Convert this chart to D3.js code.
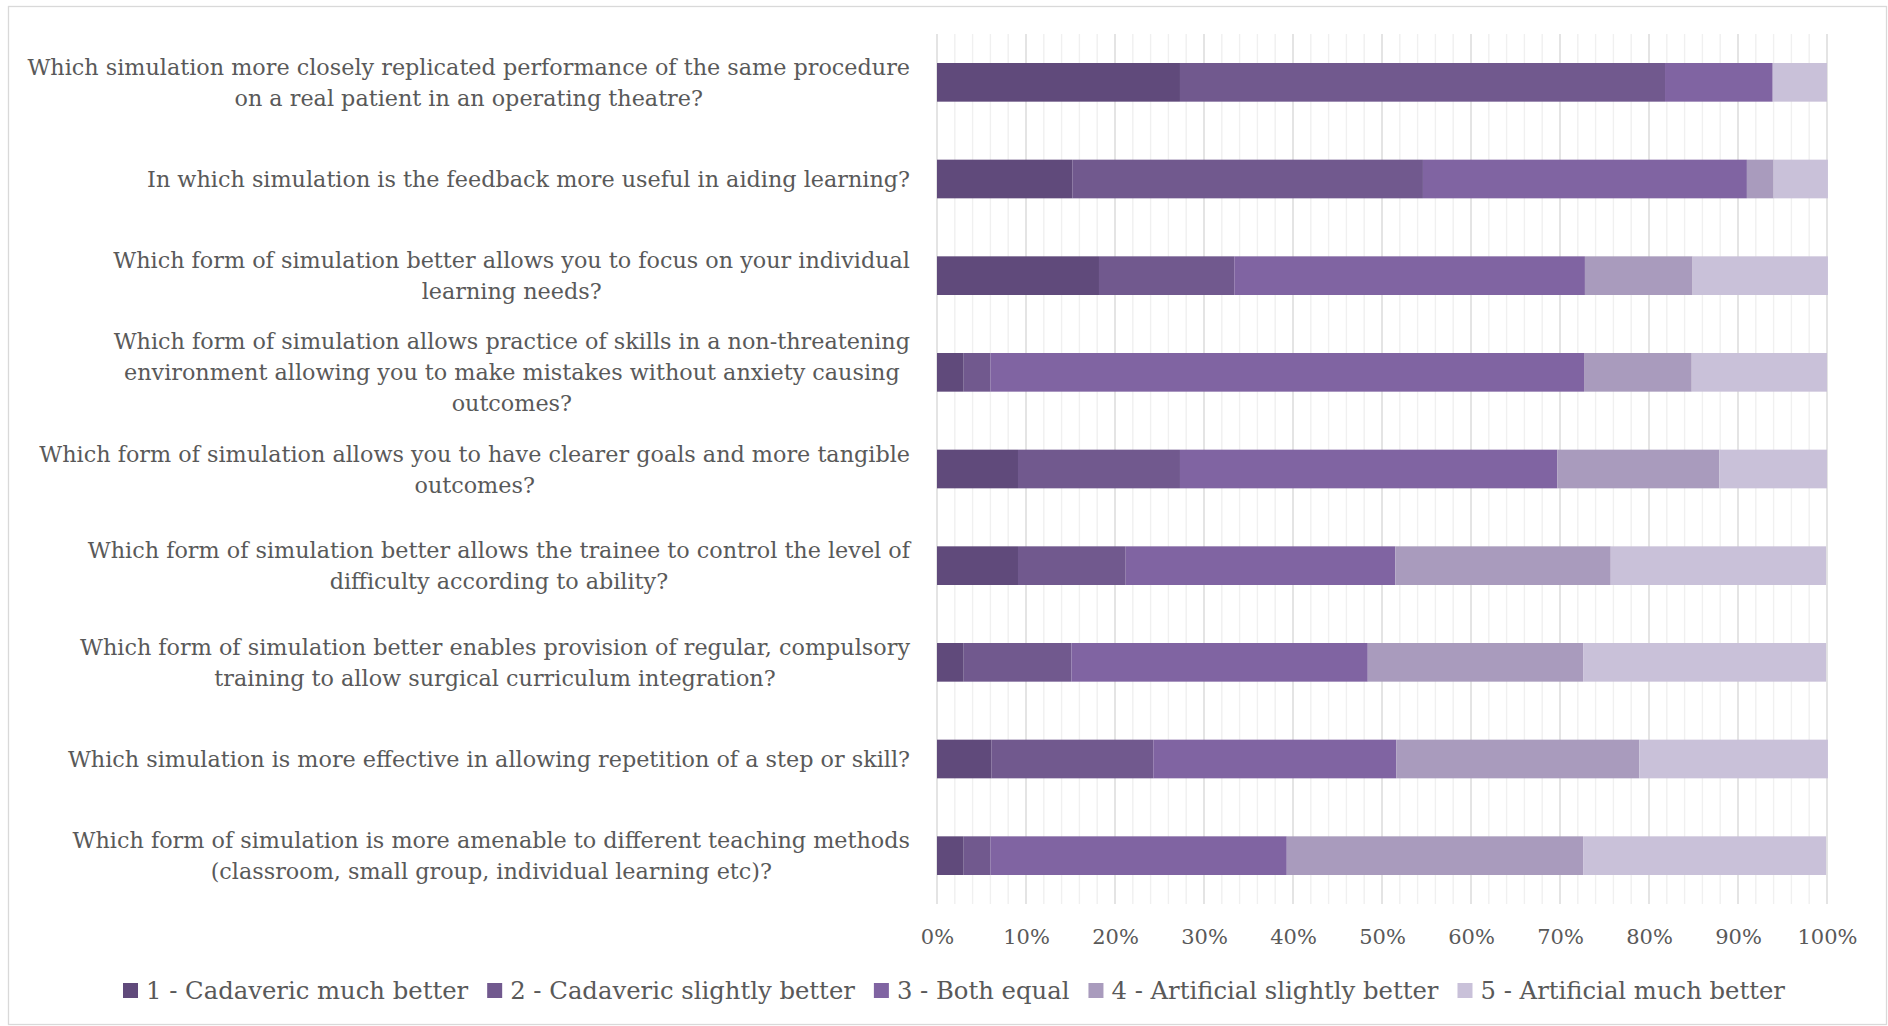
<!DOCTYPE html>
<html>
<head>
<meta charset="utf-8">
<script src="https://cdn.jsdelivr.net/npm/d3@7"></script>
<style>
  body { margin: 0; background: #fff; }
  text { font-family: "DejaVu Serif", serif; fill: #595959; }
</style>
</head>
<body>
<div id="chart"></div>
<script>
var questions = [
  ["Which simulation more closely replicated performance of the same procedure", "on a real patient in an operating theatre?"],
  ["In which simulation is the feedback more useful in aiding learning?"],
  ["Which form of simulation better allows you to focus on your individual", "learning needs?"],
  ["Which form of simulation allows practice of skills in a non-threatening", "environment allowing you to make mistakes without anxiety causing", "outcomes?"],
  ["Which form of simulation allows you to have clearer goals and more tangible", "outcomes?"],
  ["Which form of simulation better allows the trainee to control the level of", "difficulty according to ability?"],
  ["Which form of simulation better enables provision of regular, compulsory", "training to allow surgical curriculum integration?"],
  ["Which simulation is more effective in allowing repetition of a step or skill?"],
  ["Which form of simulation is more amenable to different teaching methods", "(classroom, small group, individual learning etc)?"]
];
var seriesNames = ["1 - Cadaveric much better", "2 - Cadaveric slightly better", "3 - Both equal", "4 - Artificial slightly better", "5 - Artificial much better"];
// percent of respondents per answer
var cadavericMuch    = [27.3, 15.2, 18.2,  3.0,  9.1,  9.1,  3.0,  6.1,  3.0];
var cadavericSlight  = [54.5, 39.4, 15.2,  3.0, 18.2, 12.1, 12.1, 18.2,  3.0];
var bothEqual        = [12.1, 36.4, 39.4, 66.7, 42.4, 30.3, 33.3, 27.3, 33.3];
var artificialSlight = [ 0.0,  3.0, 12.1, 12.1, 18.2, 24.2, 24.2, 27.3, 33.3];
var artificialMuch   = [ 6.1,  6.1, 15.2, 15.2, 12.1, 24.2, 27.3, 21.2, 27.3];
var tickValues = [0, 10, 20, 30, 40, 50, 60, 70, 80, 90, 100];
var colors = ["#604a7b", "#71598e", "#8064a2", "#a99bbd", "#c9c1d9"];

var width = 1888, height = 1026;
var plot = { left: 937, right: 1827, top: 34, bottom: 904 };

var table = questions.map(function (q, i) {
  var row = { idx: i };
  row[seriesNames[0]] = cadavericMuch[i];
  row[seriesNames[1]] = cadavericSlight[i];
  row[seriesNames[2]] = bothEqual[i];
  row[seriesNames[3]] = artificialSlight[i];
  row[seriesNames[4]] = artificialMuch[i];
  return row;
});
var stacked = d3.stack().keys(seriesNames)(table);

var svg = d3.select("#chart").append("svg")
  .attr("width", width).attr("height", height);

svg.append("rect")
  .attr("x", 8.5).attr("y", 6.5)
  .attr("width", 1878).attr("height", 1018)
  .attr("fill", "#fff").attr("stroke", "#d9d9d9").attr("stroke-width", 1.3);

var x = d3.scaleLinear().domain([0, 100]).range([plot.left, plot.right]);
var y = d3.scaleBand().domain(d3.range(questions.length))
  .range([plot.top, plot.bottom]).paddingInner(0.6).paddingOuter(0.3);

// minor then major gridlines
var minor = d3.range(0, 101, 2).filter(function (v) { return v % 10 !== 0; });
svg.append("g").selectAll("line").data(minor).join("line")
  .attr("x1", function (d) { return x(d); }).attr("x2", function (d) { return x(d); })
  .attr("y1", plot.top).attr("y2", plot.bottom)
  .attr("stroke", "#f0f0f0").attr("stroke-width", 1.4);
svg.append("g").selectAll("line").data(tickValues).join("line")
  .attr("x1", function (d) { return x(d); }).attr("x2", function (d) { return x(d); })
  .attr("y1", plot.top).attr("y2", plot.bottom)
  .attr("stroke", "#d9d9d9").attr("stroke-width", 1.4);

svg.append("g").selectAll("g").data(stacked).join("g")
  .attr("fill", function (d, i) { return colors[i]; })
  .selectAll("rect").data(function (d) { return d; }).join("rect")
  .attr("x", function (d) { return x(d[0]); })
  .attr("y", function (d) { return y(d.data.idx); })
  .attr("width", function (d) { return x(d[1]) - x(d[0]); })
  .attr("height", y.bandwidth());

// x axis tick labels
var xAxis = d3.axisBottom(x).tickValues(tickValues)
  .tickFormat(function (d) { return d + "%"; }).tickSize(0).tickPadding(0);
var gx = svg.append("g").attr("transform", "translate(0,944)").call(xAxis);
gx.select(".domain").remove();
gx.selectAll("text").attr("dy", 0).attr("font-size", 21).attr("font-family", null);

// category labels, each block centred and pushed against the axis
var labelRight = 910, lineH = 31;
questions.forEach(function (lines, i) {
  var cy = y(i) + y.bandwidth() / 2;
  var t = svg.append("text").attr("font-size", 22.3).attr("text-anchor", "middle");
  lines.forEach(function (ln, k) {
    t.append("tspan").attr("y", cy + (k - (lines.length - 1) / 2) * lineH + 8).text(ln);
  });
  var maxW = 0;
  t.selectAll("tspan").each(function () { maxW = Math.max(maxW, this.getComputedTextLength()); });
  t.selectAll("tspan").attr("x", labelRight - maxW / 2);
});

// legend
var legend = svg.append("g");
var lx = 0;
seriesNames.forEach(function (name, i) {
  var g = legend.append("g").attr("transform", "translate(" + lx + ",0)");
  g.append("rect").attr("x", 0).attr("y", -8).attr("width", 15).attr("height", 15).attr("fill", colors[i]);
  var t = g.append("text").attr("x", 23).attr("y", 8).attr("font-size", 24.3).text(name);
  lx += 23 + t.node().getComputedTextLength() + 19;
});
legend.attr("transform", "translate(" + (954 - (lx - 19) / 2) + ",991)");
</script>
</body>
</html>
